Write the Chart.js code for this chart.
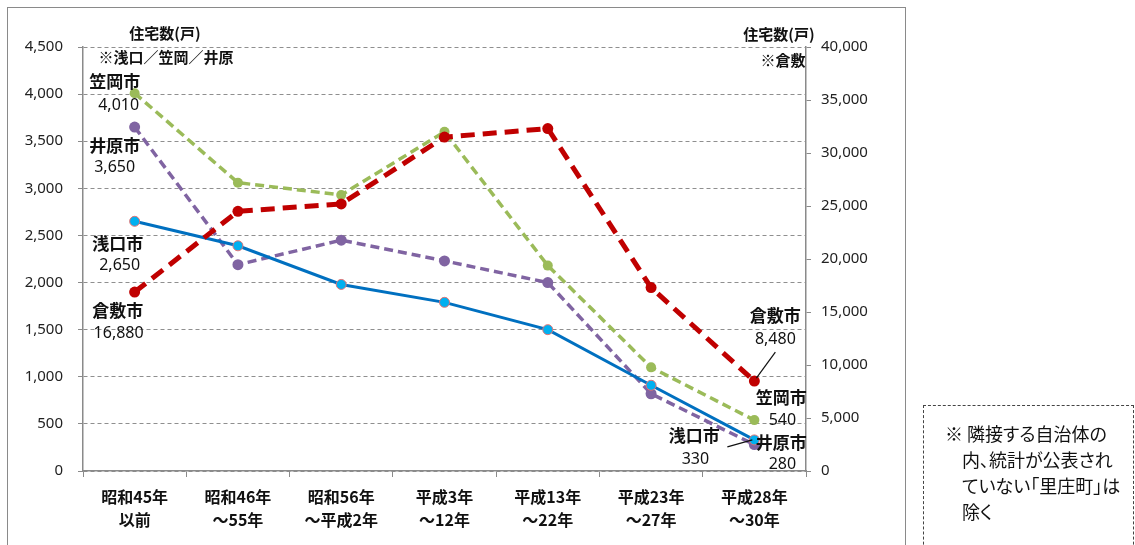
<!DOCTYPE html>
<html><head><meta charset="utf-8">
<script src="https://cdn.jsdelivr.net/npm/chart.js@4/dist/chart.umd.min.js"></script>
<style>
html,body{margin:0;padding:0;background:#fff;}
#wrap{position:relative;width:1135px;height:545px;overflow:hidden;background:#fff;}
canvas{position:absolute;left:0;top:0;}
#note{position:absolute;left:923px;top:405px;width:211px;height:170px;border:1px dashed #444;box-sizing:border-box;font-family:'Noto Sans CJK JP',sans-serif;font-size:18px;line-height:26px;color:#111;padding:14px 0 0 21px;white-space:nowrap;font-feature-settings:"palt";}
#note .i{padding-left:17px;}
</style></head>
<body><div id="wrap"><canvas id="c" width="1135" height="545"></canvas>
<div id="note"><div>※ 隣接する自治体の</div><div class="i">内、統計が公表され</div><div class="i">ていない「里庄町」は</div><div class="i">除く</div></div></div>
<script>
const categories = [['昭和45年','以前'],['昭和46年','～55年'],['昭和56年','～平成2年'],['平成3年','～12年'],['平成13年','～22年'],['平成23年','～27年'],['平成28年','～30年']];
const kurashiki = [16880, 24500, 25200, 31500, 32300, 17300, 8480];
const asakuchi = [2650, 2390, 1980, 1790, 1500, 910, 330];
const kasaoka = [4010, 3060, 2930, 3600, 2180, 1100, 540];
const ibara = [3650, 2190, 2450, 2230, 2000, 820, 280];
const leftAxis = {min: 0, max: 4500, step: 500};
const rightAxis = {min: 0, max: 40000, step: 5000};
const seriesNames = ['倉敷市', '浅口市', '笠岡市', '井原市'];
const leftTitle = ['住宅数(戸)', '※浅口／笠岡／井原'];
const rightTitle = ['住宅数(戸)', '※倉敷'];

const JP = "'Noto Sans CJK JP', sans-serif";
const NUM = "'Noto Sans', 'Noto Sans CJK JP', sans-serif";

// label placement (offsets from the data point pixel)
const labelPlacement = [
  {ds:0, idx:0, n:[-17,18], v:[-16,41]},
  {ds:0, idx:6, n:[21,-66], v:[21,-42], lead:[[21,-29],[2,-3]]},
  {ds:1, idx:0, n:[-17,22], v:[-15,44]},
  {ds:1, idx:6, n:[-60,-4], v:[-59,20], lead:[[-27,7],[-2,0]]},
  {ds:2, idx:0, n:[-20,-12], v:[-16,12]},
  {ds:2, idx:6, n:[27,-23], v:[28,0]},
  {ds:3, idx:0, n:[-20,18], v:[-20,40]},
  {ds:3, idx:6, n:[27,-2], v:[28,20]}
];

const decor = {
  id: 'decor',
  beforeDraw(chart) {
    const ctx = chart.ctx;
    ctx.save();
    ctx.fillStyle = '#fff';
    ctx.fillRect(0, 0, chart.width, chart.height);
    ctx.strokeStyle = '#8a8a8a';
    ctx.lineWidth = 1;
    ctx.strokeRect(7.5, 7.5, 898, 600);
    ctx.restore();
  },
  afterDraw(chart) {
    const ctx = chart.ctx;
    ctx.save();
    ctx.fillStyle = '#111';
    ctx.textAlign = 'center';
    ctx.textBaseline = 'middle';
    ctx.font = 'bold 15px ' + JP;
    ctx.fillText(leftTitle[0], 165, 33);
    ctx.fillText(leftTitle[1], 166, 57);
    ctx.fillText(rightTitle[0], 779, 34);
    ctx.fillText(rightTitle[1], 783, 60);

    labelPlacement.forEach(p => {
      const meta = chart.getDatasetMeta(p.ds);
      const pt = meta.data[p.idx];
      const val = chart.data.datasets[p.ds].data[p.idx];
      const x = pt.x, y = pt.y;
      ctx.font = 'bold 17px ' + JP;
      ctx.fillStyle = '#111';
      ctx.fillText(seriesNames[p.ds], x + p.n[0], y + p.n[1]);
      ctx.font = '16px ' + NUM;
      ctx.fillText(val.toLocaleString('en-US'), x + p.v[0], y + p.v[1]);
      if (p.lead) {
        ctx.strokeStyle = '#111';
        ctx.lineWidth = 1.2;
        ctx.beginPath();
        ctx.moveTo(x + p.lead[0][0], y + p.lead[0][1]);
        ctx.lineTo(x + p.lead[1][0], y + p.lead[1][1]);
        ctx.stroke();
      }
    });
    ctx.restore();
  }
};

new Chart(document.getElementById('c'), {
  type: 'line',
  data: {
    labels: categories,
    datasets: [
      {label: seriesNames[0], data: kurashiki, yAxisID: 'y1', borderColor: '#C00000', backgroundColor: '#C00000', borderWidth: 5, borderDash: [14, 8], pointRadius: 5.5, pointBorderWidth: 0, pointBackgroundColor: '#C00000', tension: 0},
      {label: seriesNames[1], data: asakuchi, yAxisID: 'y', borderColor: '#0070C0', backgroundColor: '#00B0F0', borderWidth: 3, pointRadius: 5, pointBorderWidth: 1, pointBorderColor: '#E57373', pointBackgroundColor: '#00B0F0', tension: 0},
      {label: seriesNames[2], data: kasaoka, yAxisID: 'y', borderColor: '#9BBB59', backgroundColor: '#9BBB59', borderWidth: 3.5, borderDash: [9, 5], pointRadius: 5, pointBorderWidth: 0, pointBackgroundColor: '#9BBB59', tension: 0},
      {label: seriesNames[3], data: ibara, yAxisID: 'y', borderColor: '#8064A2', backgroundColor: '#8064A2', borderWidth: 3.5, borderDash: [9, 5], pointRadius: 5.5, pointBorderWidth: 0, pointBackgroundColor: '#8064A2', tension: 0}
    ]
  },
  options: {
    responsive: false,
    animation: false,
    events: [],
    layout: {padding: {top: 47, left: 0, right: 0, bottom: 0}},
    plugins: {legend: {display: false}, tooltip: {enabled: false}},
    scales: {
      x: {
        offset: true,
        afterFit(s) { s.height = 74; },
        grid: {display: true, drawOnChartArea: false, drawTicks: true, tickLength: 6, offset: true, color: '#8a8a8a', tickColor: '#8a8a8a'},
        border: {color: '#8a8a8a', width: 1.5},
        ticks: {font: {family: JP, size: 16, weight: 'bold', lineHeight: 1.45}, color: '#111', padding: 8, maxRotation: 0, autoSkip: false}
      },
      y: {
        position: 'left',
        min: leftAxis.min, max: leftAxis.max,
        afterFit(s) { s.width = 83; },
        grid: {color: '#8f8f8f', lineWidth: 1, tickLength: 5, tickColor: '#8a8a8a', drawTicks: true},
        border: {color: '#8a8a8a', width: 1.5, dash: [4, 3]},
        ticks: {stepSize: leftAxis.step, font: {family: NUM, size: 15}, color: '#222', padding: 15}
      },
      y1: {
        position: 'right',
        min: rightAxis.min, max: rightAxis.max,
        afterFit(s) { s.width = 1135 - 806; },
        grid: {drawOnChartArea: false, drawTicks: true, tickLength: 5, color: '#8a8a8a'},
        border: {color: '#8a8a8a', width: 1.5},
        ticks: {stepSize: rightAxis.step, font: {family: NUM, size: 15}, color: '#222', padding: 10}
      }
    }
  },
  plugins: [decor]
});
</script>
</body></html>
